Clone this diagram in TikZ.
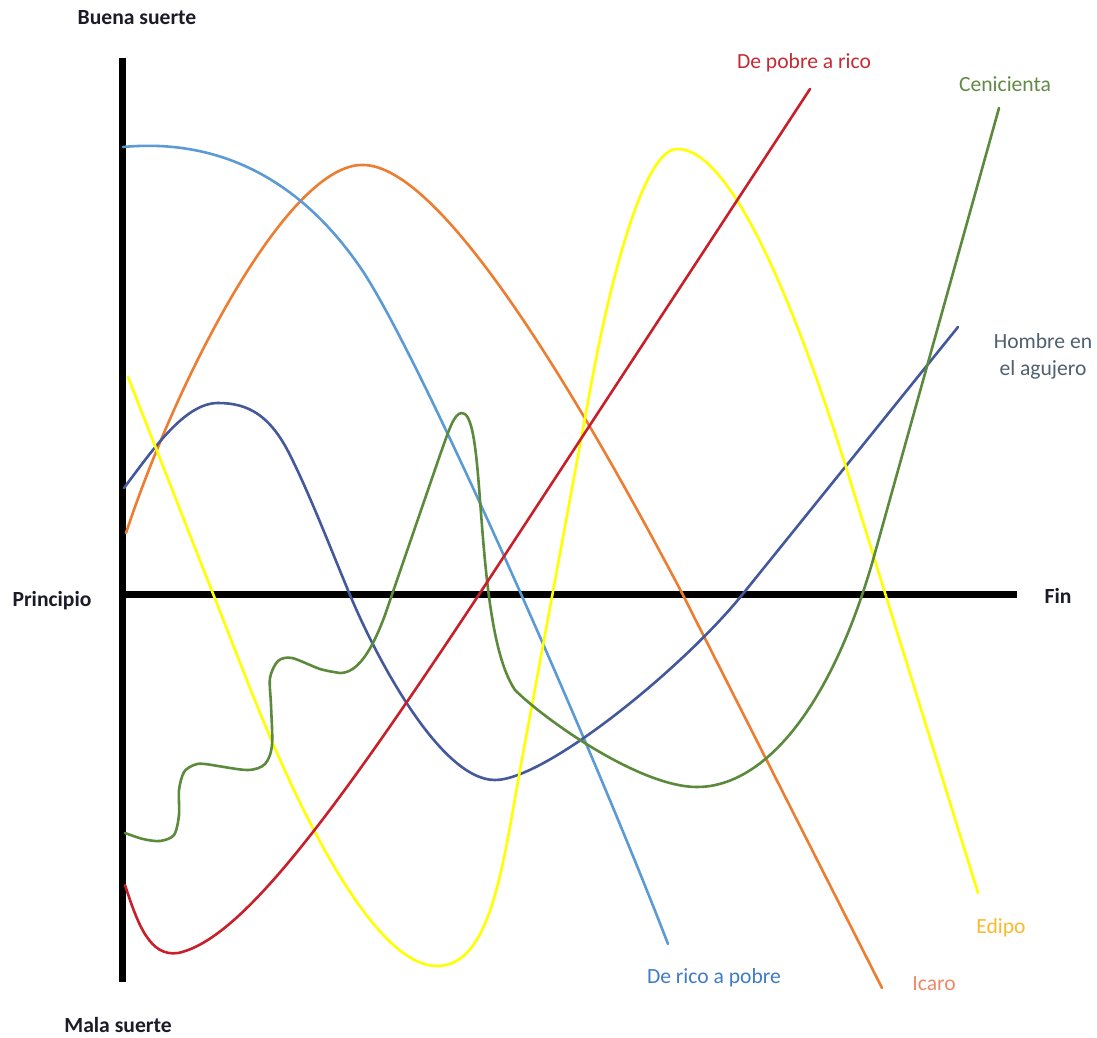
\documentclass[tikz,border=0pt]{standalone}
\usepackage{fontspec}
\setmainfont{Carlito}
\definecolor{labelink}{HTML}{1C1C28}
\definecolor{redline}{HTML}{C8202A}
\definecolor{orangeline}{HTML}{ED7D31}
\definecolor{skyline}{HTML}{5B9BD5}
\definecolor{navyline}{HTML}{44589C}
\definecolor{greenline}{HTML}{5B8A3C}
\definecolor{yellowline}{HTML}{FFFF00}
\definecolor{redink}{HTML}{C62B34}
\definecolor{greenink}{HTML}{638A48}
\definecolor{slateink}{HTML}{4F6070}
\definecolor{skyink}{HTML}{3F7CC8}
\definecolor{icaroink}{HTML}{EE8A6A}
\definecolor{edipoink}{HTML}{FBBA2E}
\begin{document}
\begin{tikzpicture}[x=1pt,y=-1pt,
  curve/.style={line width=2.6pt, line cap=round, line join=round},
  axisline/.style={line width=7pt},
  axislabel/.style={font=\fontsize{21.6}{26}\selectfont\bfseries, text=labelink, anchor=base, inner sep=0pt},
  tag/.style={font=\fontsize{21.6}{27}\selectfont, anchor=base, inner sep=0pt}]
\useasboundingbox (0,0) rectangle (1097,1038);
\fill[white] (0,0) rectangle (1097,1038);

% axes
\coordinate (vtop) at (122,58);
\coordinate (vbot) at (122,982);
\coordinate (hleft) at (119,594);
\coordinate (hright) at (1017,594);
\draw[axisline] (vtop) -- (vbot);
\draw[axisline] (hleft) -- (hright);

% axis labels
\node[axislabel] (buena) at (137,25) {Buena suerte};
\node[axislabel] (mala) at (118,1032) {Mala suerte};
\node[axislabel] (principio) at (52,606) {Principio};
\node[axislabel] (fin) at (1058,603) {Fin};

% Icaro
\draw[curve, orangeline] (126,533) .. controls (180,370) and (290,163) .. (363,165)
  .. controls (440,165) and (573,386) .. (683,595) -- (882,988);

% De rico a pobre
\draw[curve, skyline] (123,147) .. controls (220,138) and (300,180) .. (360,267)
  .. controls (420,354) and (598,762) .. (668,944);

% Hombre en el agujero
\draw[curve, navyline] (124,488) .. controls (154,448) and (185,403) .. (218,403)
  .. controls (248,403) and (270,415) .. (290,455)
  .. controls (310,495) and (330,547) .. (350,595)
  .. controls (375,655) and (440,780) .. (495,780)
  .. controls (545,780) and (682,669) .. (742,595) -- (958,327);

% Edipo
\draw[curve, yellowline] (128,377) -- (250,688)
  .. controls (290,790) and (370,966) .. (437,966)
  .. controls (490,966) and (502,871) .. (520,770) -- (592,380)
  .. controls (612,272) and (645,149) .. (677,149)
  .. controls (730,148) and (794,299) .. (850,480) -- (978,893);

% Cenicienta
\draw[curve, greenline] plot[smooth, tension=0.5] coordinates {
  (125,833) (143,839) (160,841) (174,835) (179,815) (179,790) (184,772)
  (194,765) (205,764) (247,770) (265,764) (272,745) (271,705) (270,678)
  (278,661) (292,658) (320,669) (340,673)}
  .. controls (358,673) and (372,650) .. (385,615) -- (440,455)
  .. controls (449,430) and (454,413) .. (462,413)
  .. controls (471,413) and (475,440) .. (478,475)
  .. controls (484,545) and (488,650) .. (515,690)
  .. controls (545,720) and (640,787) .. (697,787)
  .. controls (760,787) and (828,716) .. (873,560) -- (999,108);

% De pobre a rico
\draw[curve, redline] (125,885) .. controls (138,925) and (150,957) .. (178,953)
  .. controls (240,940) and (330,820) .. (480,593) -- (810,89);

% curve names
\node[tag, text=redink] (pobrerico) at (804,69) {De pobre a rico};
\node[tag, text=greenink] (cenicienta) at (1005,92) {Cenicienta};
\node[tag, text=slateink, align=center, anchor=center] (hombre) at (1043,356) {Hombre en\\el agujero};
\node[tag, text=skyink] (ricopobre) at (714,983) {De rico a pobre};
\node[tag, text=icaroink] (icaro) at (934,990) {Icaro};
\node[tag, text=edipoink] (edipo) at (1001,933) {Edipo};
\end{tikzpicture}
\end{document}
